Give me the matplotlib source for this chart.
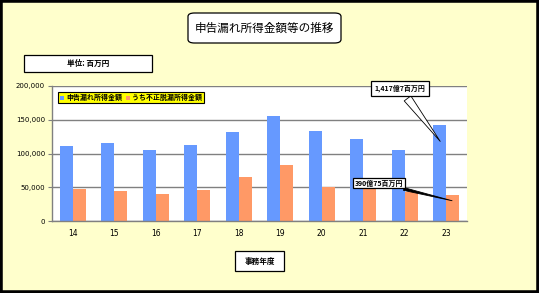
import numpy as np
import matplotlib
matplotlib.use("Agg")
import matplotlib.pyplot as plt
from matplotlib.patches import FancyBboxPatch, Rectangle

plt.rcParams['font.family'] = ['Noto Sans CJK JP', 'DejaVu Sans']

# data (百万円)
years = ['14', '15', '16', '17', '18', '19', '20', '21', '22', '23']
omission = [111000, 116000, 105000, 112500, 132000, 156000, 133000, 121500, 105000, 141707]
fraud = [47800, 44500, 40000, 46000, 65000, 83000, 50000, 49000, 43000, 39075]
series_names = ['申告漏れ所得金額', 'うち不正脱漏所得金額']
title = '申告漏れ所得金額等の推移'
unit_text = '単位: 百万円'
xlabel = '事務年度'
note_omission = '1,417億7百万円'
note_fraud = '390億75百万円'

W, H = 539, 293
fig = plt.figure(figsize=(W / 100, H / 100), dpi=100)
fig.patch.set_facecolor('#FFFFCC')
fig.patches.append(Rectangle((0, 0), 1, 1, transform=fig.transFigure,
                             fill=False, ec='black', lw=4))


def px_box(x0, y0, x1, y1, rounded=False):
	# box given in pixel coords from top-left
	style = 'round,pad=0,rounding_size=0.012' if rounded else 'square,pad=0'
	p = FancyBboxPatch((x0 / W, 1 - y1 / H), (x1 - x0) / W, (y1 - y0) / H,
	                   boxstyle=style, transform=fig.transFigure,
	                   fc='white', ec='black', lw=0.9)
	fig.patches.append(p)
	return ((x0 + x1) / 2 / W, 1 - (y0 + y1) / 2 / H)


cx, cy = px_box(188, 13, 341, 43, rounded=True)
fig.text(cx, cy, title, ha='center', va='center', fontsize=8.4)
cx, cy = px_box(24, 55, 152, 72)
fig.text(cx, cy, unit_text, ha='center', va='center', fontsize=5.5, fontweight='bold')
cx, cy = px_box(235, 251, 284, 271)
fig.text(cx, cy, xlabel, ha='center', va='center', fontsize=5.5, fontweight='bold')

ax = fig.add_axes([52 / W, 1 - 221 / H, 415 / W, 135 / H])
ax.set_facecolor('white')
x = np.arange(len(years))
bw = 0.31
ax.bar(x - bw / 2, omission, bw, color='#6699FF', label=series_names[0], zorder=2)
ax.bar(x + bw / 2, fraud, bw, color='#FF9966', label=series_names[1], zorder=2)

ax.set_xlim(-0.5, len(years) - 0.5)
ax.set_ylim(0, 200000)
ax.set_yticks(np.arange(0, 200001, 50000))
ax.set_yticklabels([f'{v:,}' for v in range(0, 200001, 50000)], fontsize=5,
                   family='DejaVu Sans')
ax.set_xticks(x)
ax.set_xticklabels(years, fontsize=5.5, family='DejaVu Sans')
ax.tick_params(axis='x', length=0, pad=6)
ax.tick_params(axis='y', length=3, color='#808080', pad=2)
ax.yaxis.grid(True, color='#808080', lw=1, zorder=1)
ax.set_axisbelow(True)
for s in ['top', 'right']:
	ax.spines[s].set_visible(False)
for s in ['left', 'bottom']:
	ax.spines[s].set_color('#808080')
	ax.spines[s].set_linewidth(1)

leg = ax.legend(loc='upper left', bbox_to_anchor=(0.014, 0.956), ncol=2,
                frameon=True, fancybox=False, borderaxespad=0,
                borderpad=0.3, handlelength=0.6, handleheight=0.6,
                handletextpad=0.3, columnspacing=0.5,
                prop={'weight': 'bold', 'size': 5})
leg.get_frame().set_facecolor('#FFFF00')
leg.get_frame().set_edgecolor('black')
leg.get_frame().set_linewidth(0.8)
leg.get_frame().set_alpha(1)

last = len(years) - 1
ax.annotate(note_omission, xy=(last - bw / 2 + 0.05, omission[last] - 27000),
            xytext=(400 / W, 1 - 88.5 / H), textcoords='figure fraction',
            ha='center', va='center', fontsize=5, fontweight='bold',
            bbox=dict(boxstyle='square,pad=0.5', fc='white', ec='black', lw=0.9),
            arrowprops=dict(arrowstyle='wedge,tail_width=1.2', fc='white',
                            ec='black', lw=0.6), zorder=5)
ax.annotate(note_fraud, xy=(last + bw / 2 + 0.05, fraud[last] - 10000),
            xytext=(379 / W, 1 - 183 / H), textcoords='figure fraction',
            ha='center', va='center', fontsize=5, fontweight='bold',
            bbox=dict(boxstyle='square,pad=0.2', fc='white', ec='black', lw=0.9),
            arrowprops=dict(arrowstyle='wedge,tail_width=0.4', fc='black',
                            ec='black', lw=0.6), zorder=5)

fig.savefig('out.png', dpi=100, facecolor=fig.get_facecolor())
